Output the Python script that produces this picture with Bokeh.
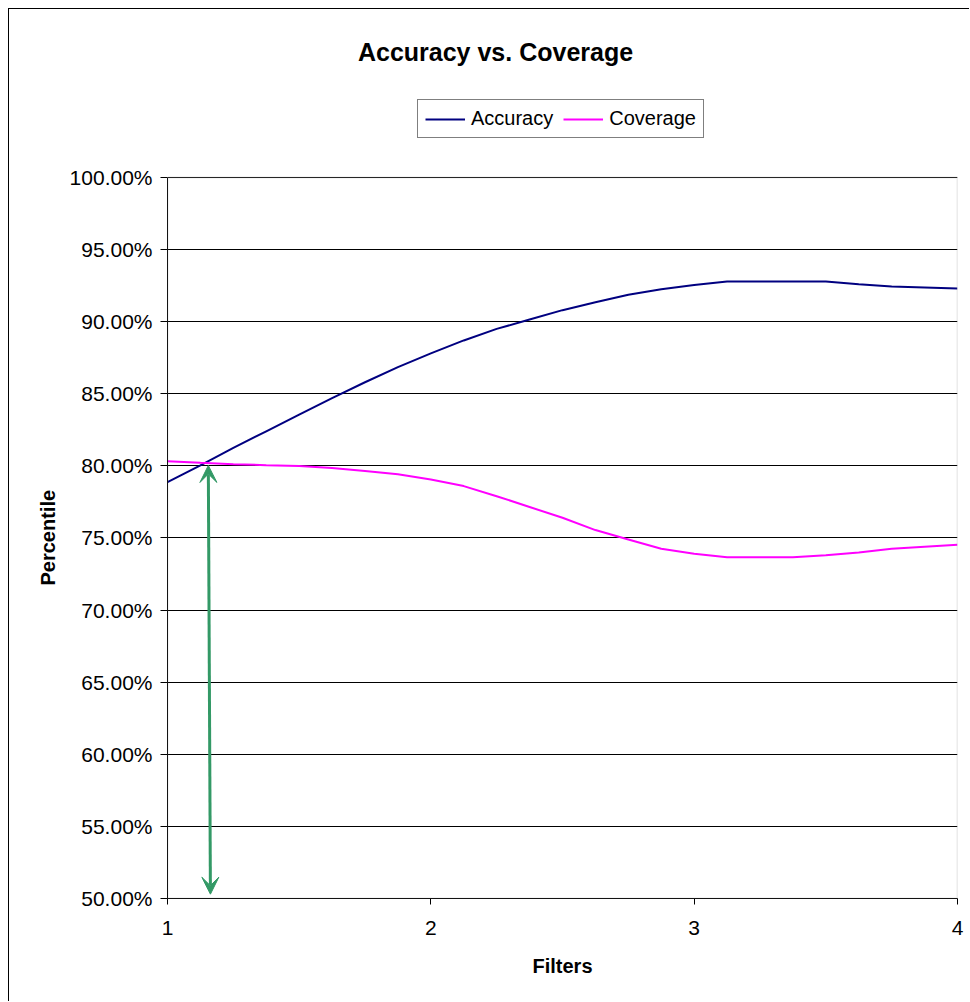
from bokeh.plotting import figure
from bokeh.models import (Range1d, FixedTicker, PrintfTickFormatter, Legend, LegendItem,
                          Label, Title, Arrow, VeeHead, BoxAnnotation)
from bokeh.embed import file_html
from bokeh.resources import INLINE

# Number of filters applied (x) and the resulting percentiles
filters = [1.0, 1.125, 1.25, 1.375, 1.5, 1.625, 1.75, 1.875, 2.0, 2.125, 2.25, 2.375, 2.5,
           2.625, 2.75, 2.875, 3.0, 3.125, 3.25, 3.375, 3.5, 3.625, 3.75, 3.875, 4.0]
accuracy = [78.87, 80.04, 81.25, 82.40, 83.56, 84.70, 85.80, 86.85, 87.80, 88.70, 89.50,
            90.15, 90.80, 91.35, 91.87, 92.25, 92.55, 92.79, 92.79, 92.79, 92.79, 92.60,
            92.44, 92.37, 92.30]
coverage = [80.33, 80.22, 80.12, 80.05, 80.00, 79.85, 79.65, 79.42, 79.06, 78.60, 77.90,
            77.15, 76.40, 75.55, 74.90, 74.25, 73.90, 73.67, 73.67, 73.67, 73.80, 74.00,
            74.25, 74.40, 74.53]

x_ticks = [1, 2, 3, 4]
y_ticks = [50, 55, 60, 65, 70, 75, 80, 85, 90, 95, 100]
y_min, y_max = 50, 100

# Crossover marker: from the intersection down to the baseline
arrow_top = (1.155, 80.03)
arrow_bottom = (1.163, 50.3)

FONT = "Liberation Sans"
GREEN = "#339966"

# The frame runs up to the top of the chart so that the title and legend
# can sit inside it; the percent axis itself is bounded to 50..100.
p = figure(width=961, height=993, output_backend="svg", toolbar_location=None,
           x_range=Range1d(1, 4), y_range=Range1d(y_min, 111.65),
           min_border_left=158, min_border_right=13, min_border_top=0, min_border_bottom=104)
p.title = None
p.styles = {"margin-left": "8px", "margin-top": "8px",
            "border-left": "1px solid black", "border-top": "1px solid black"}
p.background_fill_color = "white"
p.border_fill_color = "white"
p.outline_line_color = None

# Axes
p.xaxis.ticker = FixedTicker(ticks=x_ticks)
p.yaxis.ticker = FixedTicker(ticks=y_ticks)
p.yaxis.bounds = (y_min, y_max)
p.yaxis.formatter = PrintfTickFormatter(format="%.2f%%")
for ax in (p.xaxis[0], p.yaxis[0]):
    ax.axis_line_color = "black"
    ax.major_tick_line_color = "black"
    ax.major_tick_in = 0
    ax.minor_tick_line_color = None
    ax.major_label_text_font = FONT
    ax.major_label_text_font_size = "21px"
    ax.major_label_text_color = "black"
    ax.axis_label_text_font = FONT
    ax.axis_label_text_font_size = "20px"
    ax.axis_label_text_font_style = "bold"
    ax.axis_label_text_color = "black"
p.xaxis.major_tick_out = 6
p.yaxis.major_tick_out = 7
p.xaxis.major_label_standoff = 16
p.yaxis.major_label_standoff = 8
p.xaxis.axis_label = "Filters"
p.xaxis.axis_label_standoff = 17

# Vertical axis title, placed along the 50..100 span
p.add_layout(Title(text="Percentile", align="left", offset=313, standoff=16,
                   text_font=FONT, text_font_size="20px", text_font_style="bold",
                   text_color="black"), "left")

p.xgrid.grid_line_color = None
p.ygrid.ticker = FixedTicker(ticks=y_ticks)
p.ygrid.grid_line_color = "black"
p.ygrid.grid_line_width = 1

# Plot-area border
p.add_layout(BoxAnnotation(left=1, right=4, bottom=y_min, top=y_max,
                           fill_alpha=0, line_color="#808080", line_width=1.5))

# Series
r_acc = p.line(filters, accuracy, line_color="#000080", line_width=2)
r_cov = p.line(filters, coverage, line_color="#FF00FF", line_width=2)

# Double-headed arrow
head_a = VeeHead(size=17, fill_color=GREEN, line_color=GREEN)
head_b = VeeHead(size=17, fill_color=GREEN, line_color=GREEN)
p.add_layout(Arrow(start=head_a, end=head_b,
                   x_start=arrow_top[0], y_start=arrow_top[1],
                   x_end=arrow_bottom[0], y_end=arrow_bottom[1],
                   line_color=GREEN, line_width=3))

# Legend
legend = Legend(items=[LegendItem(label="Accuracy", renderers=[r_acc]),
                       LegendItem(label="Coverage", renderers=[r_cov])],
                orientation="horizontal", location=(250, 760),
                glyph_width=40, glyph_height=20, label_standoff=6, spacing=10,
                padding=7, margin=0,
                border_line_color="black", border_line_width=1,
                background_fill_color="white", background_fill_alpha=1,
                label_text_font=FONT, label_text_font_size="20px", label_text_color="black")
p.add_layout(legend, "center")

# Chart title
p.add_layout(Label(x=2.2456, y=108.67,
                   text="Accuracy vs. Coverage", text_align="center", text_baseline="middle",
                   text_font=FONT, text_font_size="25px", text_font_style="bold",
                   text_color="black"))

open("out.html", "w").write(file_html(p, INLINE))
